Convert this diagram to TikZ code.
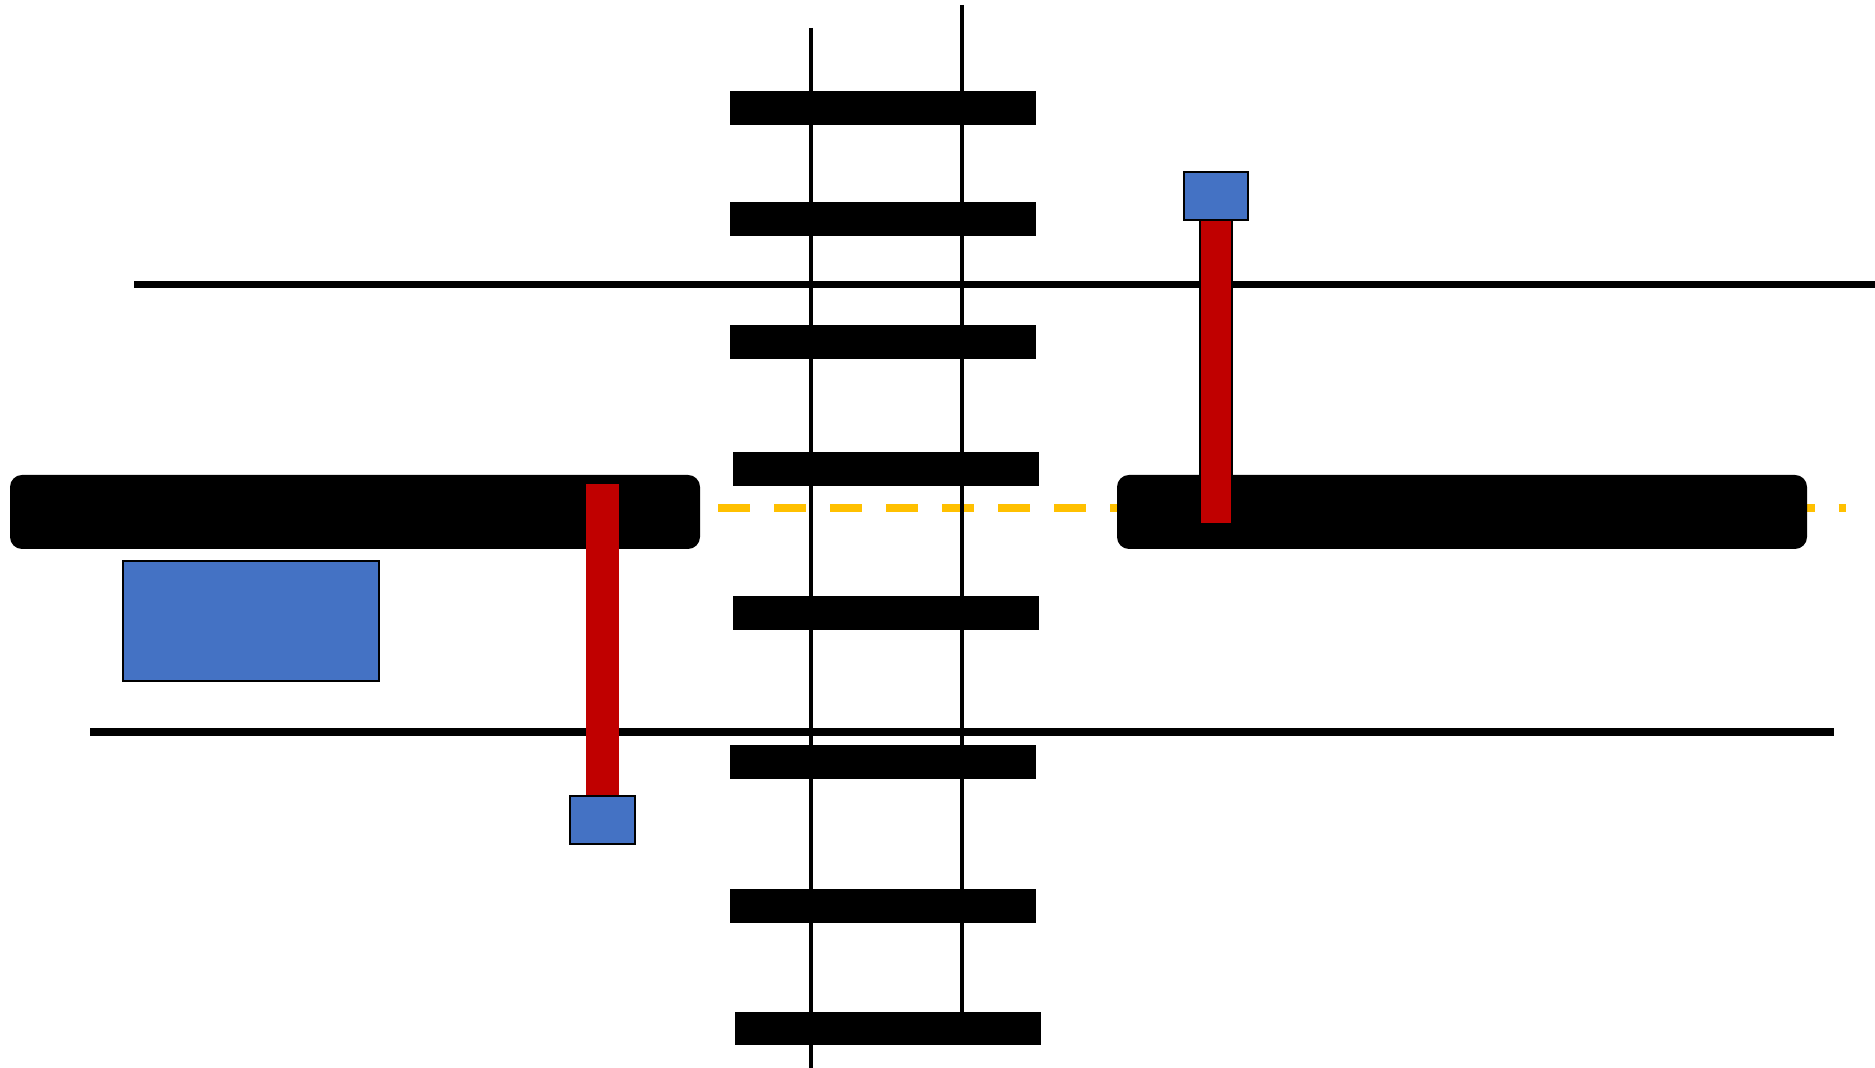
\documentclass[tikz,border=0pt]{standalone}
\definecolor{polered}{HTML}{C00000}
\definecolor{boxblue}{HTML}{4472C4}
\definecolor{lineyellow}{HTML}{FFC000}
\tikzset{
  rail/.style={line width=0.045cm, black},
  wire/.style={line width=0.075cm, black},
  sleeper/.style={fill=black},
  platform/.style={fill=black, rounded corners=0.12cm},
  pole/.style={fill=polered},
  outlinedpole/.style={fill=polered, draw=black, line width=0.012cm},
  bluebox/.style={fill=boxblue, draw=black, line width=0.018cm},
  edgeline/.style={draw=lineyellow, line width=0.08cm, dash pattern=on 0.32cm off 0.24cm}
}
\begin{document}
\begin{tikzpicture}[x=0.01cm, y=-0.01cm]
  \useasboundingbox (0,0) rectangle (1875,1068);

  % platform edge marking
  \coordinate (ya) at (718,508);
  \coordinate (yb) at (1846,508);
  \draw[edgeline] (ya) -- (yb);

  % platforms
  \fill[platform] (10,475) rectangle (700,549);
  \fill[platform] (1117,475) rectangle (1807,549);

  % rails
  \coordinate (lrt) at (811,28);
  \coordinate (lrb) at (811,1068);
  \coordinate (rrt) at (962,5);
  \coordinate (rrb) at (962,1012);
  \draw[rail] (lrt) -- (lrb);
  \draw[rail] (rrt) -- (rrb);

  % sleepers
  \fill[sleeper] (730,91)   rectangle (1036,125);
  \fill[sleeper] (730,202)  rectangle (1036,236);
  \fill[sleeper] (730,325)  rectangle (1036,359);
  \fill[sleeper] (733,452)  rectangle (1039,486);
  \fill[sleeper] (733,596)  rectangle (1039,630);
  \fill[sleeper] (730,745)  rectangle (1036,779);
  \fill[sleeper] (730,889)  rectangle (1036,923);
  \fill[sleeper] (735,1012) rectangle (1041,1045);

  % overhead lines
  \coordinate (ta) at (134,284.5);
  \coordinate (tb) at (1875,284.5);
  \coordinate (ba) at (90,732);
  \coordinate (bb) at (1834,732);
  \draw[wire] (ta) -- (tb);
  \draw[wire] (ba) -- (bb);

  % left pole and its head
  \fill[pole] (586,484) rectangle (619,796);
  \draw[bluebox] (570,796) rectangle (635,844);

  % right pole and its head
  \draw[outlinedpole] (1200,220) rectangle (1232,524);
  \draw[bluebox] (1184,172) rectangle (1248,220);

  % block beside the left platform
  \draw[bluebox] (123,561) rectangle (379,681);
\end{tikzpicture}
\end{document}
